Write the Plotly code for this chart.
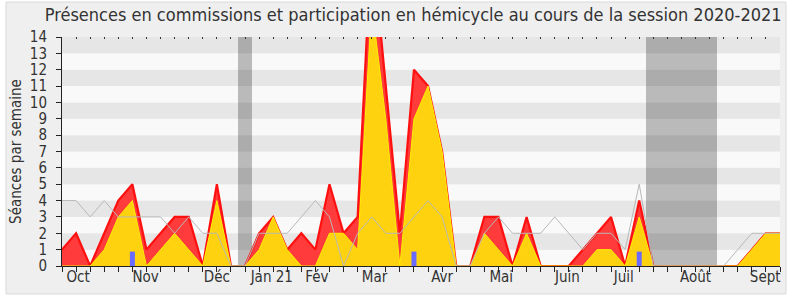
import plotly.graph_objects as go

# ---- data (weekly, index 0..51) ----
weeks = list(range(52))
commissions = [1, 2, 0, 2, 4, 5, 1, 2, 3, 3, 0, 5, 0, 0, 2, 3, 1, 2, 1, 5,
               2, 3, 20, 11, 2, 12, 11, 7, 0, 0, 3, 3, 0, 3, 0, 0, 0, 1, 2, 3,
               0, 4, 0, 0, 0, 0, 0, 0, 0, 1, 2, 2]
hemicycle = [0, 0, 0, 1, 3, 4, 0, 1, 2, 1, 0, 4, 0, 0, 1, 3, 1, 0, 0, 2,
             2, 1, 16, 9, 0, 9, 11, 7, 0, 0, 2, 1, 0, 2, 0, 0, 0, 0, 1, 1,
             0, 3, 0, 0, 0, 0, 0, 0, 0, 1, 2, 2]
mediane = [4, 4, 3, 4, 3, 3, 3, 3, 2, 3, 2, 2, 0, 0, 2, 2, 2, 3, 4, 3,
           0, 2, 3, 2, 2, 3, 4, 3, 0, 0, 2, 3, 2, 2, 2, 3, 2, 1, 2, 2,
           1, 5, 0, 0, 0, 0, 0, 0, 1, 2, 2, 2]
question_weeks = [5, 25, 41]
question_values = [0.88, 0.88, 0.88]
vacances_weeks = [13, 42, 43, 44, 45, 46]
month_pos = [1.14, 5.94, 11.0, 14.9, 18.1, 22.2, 27.0, 31.2, 35.9, 39.9, 45.0, 49.95]
month_labels = ["Oct", "Nov", "Déc", "Jan 21", "Fév", "Mar", "Avr", "Mai",
                "Juin", "Juil", "Août", "Sept"]
ymax = 14

FONT = "DejaVu Sans Condensed, DejaVu Sans, sans-serif"
TXT = "#333333"

fig = go.Figure()

# holiday bands
fig.add_trace(go.Bar(x=vacances_weeks, y=[ymax] * len(vacances_weeks), width=1,
                     marker=dict(color="rgba(0,0,0,0.25)", line=dict(width=0)),
                     hoverinfo="skip", showlegend=False))

# commissions (red)
fig.add_trace(go.Scatter(x=weeks, y=commissions, mode="lines", fill="tozeroy",
                         fillcolor="#ff3b3b",
                         line=dict(color="#ff1010", width=2.2),
                         hoverinfo="skip", showlegend=False))
# hemicycle (yellow)
fig.add_trace(go.Scatter(x=weeks, y=hemicycle, mode="lines", fill="tozeroy",
                         fillcolor="#ffd20f",
                         line=dict(color="#ffee00", width=1),
                         hoverinfo="skip", showlegend=False))
# median (gray)
fig.add_trace(go.Scatter(x=weeks, y=mediane, mode="lines",
                         line=dict(color="#b8b8b8", width=1),
                         hoverinfo="skip", showlegend=False))
# questions (blue bars drawn as thick lines)
qx, qy = [], []
for w, v in zip(question_weeks, question_values):
    qx += [w, w, None]
    qy += [0, v, None]
fig.add_trace(go.Scatter(x=qx, y=qy, mode="lines",
                         line=dict(color="#6b6bff", width=5),
                         hoverinfo="skip", showlegend=False))

# dummy traces for overlay axes
fig.add_trace(go.Scatter(x=[0], y=[0], xaxis="x2", mode="none", hoverinfo="skip", showlegend=False))
fig.add_trace(go.Scatter(x=[0], y=[0], xaxis="x3", mode="none", hoverinfo="skip", showlegend=False))

# background stripes
shapes = []
for k in range(ymax):
    shapes.append(dict(type="rect", xref="x", yref="y", x0=-0.05, x1=51.05, y0=k, y1=k + 1,
                       fillcolor="#e6e6e6" if k % 2 == 1 else "#f9f9f9",
                       line=dict(width=0), layer="below"))
# panel
shapes.insert(0, dict(type="rect", xref="paper", yref="paper", x0=-0.078, x1=1.0084,
                      y0=-0.1223, y1=1.1528, fillcolor="#efefef",
                      line=dict(color="#d9d9d9", width=1), layer="below"))

xr = [0, 51]
fig.update_layout(
    width=790, height=300,
    margin=dict(l=62, r=10, t=37, b=34),
    paper_bgcolor="#ffffff", plot_bgcolor="rgba(0,0,0,0)",
    barmode="overlay", bargap=0,
    shapes=shapes,
    title=dict(text="Présences en commissions et participation en hémicycle au cours de la session 2020-2021",
               x=0.523, xanchor="center", y=0.952, yanchor="middle",
               font=dict(family=FONT, size=18, color=TXT)),
    xaxis=dict(range=xr, tickvals=month_pos, ticktext=month_labels, ticks="",
               showgrid=False, zeroline=False, showline=False,
               tickfont=dict(family=FONT, size=15, color=TXT)),
    xaxis2=dict(range=xr, overlaying="x", side="bottom", anchor="y",
                tickvals=weeks, ticks="outside", ticklen=5, tickcolor="#222",
                showticklabels=False, showgrid=False, zeroline=False,
                showline=True, linecolor="#222", linewidth=1),
    xaxis3=dict(range=xr, overlaying="x", side="top", anchor="y",
                tickvals=weeks, ticks="inside", ticklen=2, tickcolor="#333",
                showticklabels=False, showgrid=False, zeroline=False, showline=False),
    yaxis=dict(range=[0, ymax], tickvals=list(range(ymax + 1)), ticks="outside", ticklen=5,
               tickcolor="#222", showline=True, linecolor="#222", linewidth=1,
               showgrid=False, zeroline=False, ticklabelstandoff=6,
               tickfont=dict(family=FONT, size=15, color=TXT),
               title=dict(text="Séances par semaine", standoff=4,
                          font=dict(family=FONT, size=15, color=TXT))),
)

fig.write_html("out.html")
